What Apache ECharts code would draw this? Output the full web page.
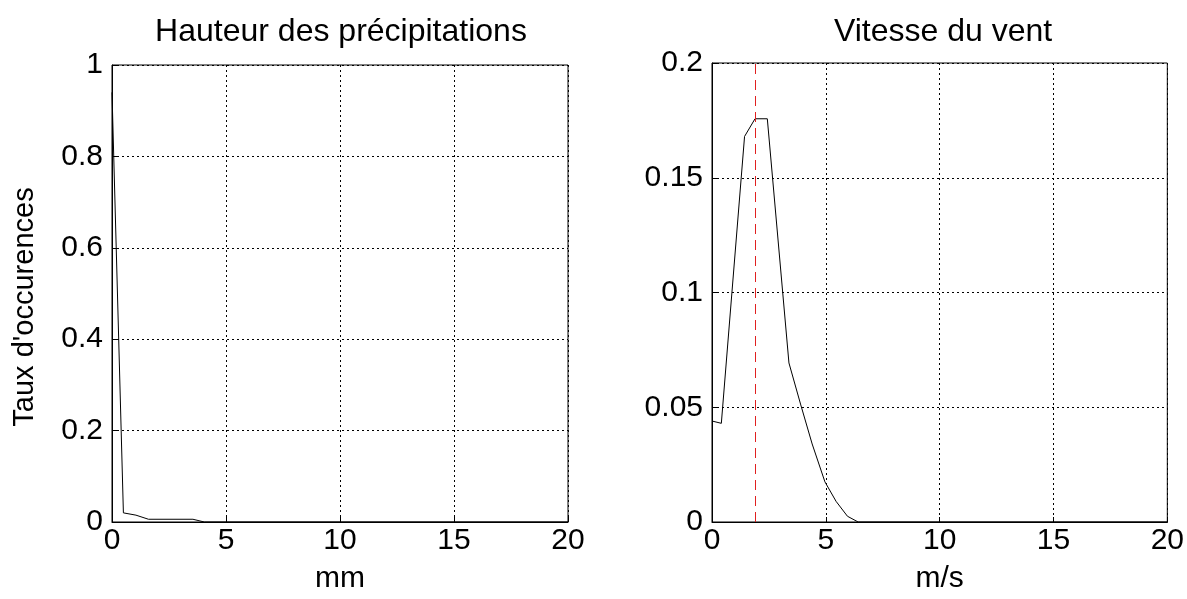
<!DOCTYPE html>
<html>
<head>
<meta charset="utf-8">
<script src="https://cdn.jsdelivr.net/npm/echarts@6/dist/echarts.min.js"></script>
<style>
  html, body { margin: 0; padding: 0; background: #fff; }
  #chart { width: 1187px; height: 599px; }
</style>
</head>
<body>
<div id="chart"></div>
<script>
// Precipitation height distribution (mm)
const precipX = [0, 0.5, 1.05, 1.6, 3.55, 4.05, 20];
const precipY = [0.94, 0.02, 0.015, 0.006, 0.006, 0, 0];

// Wind speed distribution (m/s)
const windX = [0, 0.41, 1.43, 1.89, 2.43, 3.38, 3.9, 4.4, 4.96, 5.45, 5.95, 6.42, 20];
const windY = [0.044, 0.043, 0.168, 0.1757, 0.1757, 0.0693, 0.051, 0.034, 0.0175, 0.009, 0.0025, 0, 0];

// Mean wind speed marker
const windMean = 1.89;

const xTicks = [0, 5, 10, 15, 20];
const precipYTicks = [0, 0.2, 0.4, 0.6, 0.8, 1];
const windYTicks = [0, 0.05, 0.1, 0.15, 0.2];

const titles = ['Hauteur des précipitations', 'Vitesse du vent'];
const xNames = ['mm', 'm/s'];
const yName = "Taux d'occurences";

const FONT = 'Liberation Sans, Arial, sans-serif';
const FS = 30;

function pairs(xs, ys) { return xs.map((x, i) => [x, ys[i]]); }

function xAxisDef(gridIndex, name) {
  return {
    type: 'value', gridIndex, min: xTicks[0], max: xTicks[xTicks.length - 1], interval: 5,
    name, nameLocation: 'middle', nameGap: 42,
    nameTextStyle: { color: '#000', fontSize: FS, fontFamily: FONT },
    axisLine: { show: true, lineStyle: { color: '#000', width: 1 } },
    axisTick: { show: true, inside: true, length: 5, lineStyle: { color: '#000' } },
    axisLabel: { color: '#000', fontSize: FS, fontFamily: FONT, margin: 4 },
    splitLine: { show: true, lineStyle: { color: '#000', type: [2, 3], width: 1 } }
  };
}

function yAxisDef(gridIndex, max, interval) {
  return {
    type: 'value', gridIndex, min: 0, max, interval,
    axisLine: { show: true, lineStyle: { color: '#000', width: 1 } },
    axisTick: { show: true, inside: true, length: 5, lineStyle: { color: '#000' } },
    axisLabel: { color: '#000', fontSize: FS, fontFamily: FONT, margin: 9,
      formatter: v => String(+v.toFixed(2)) },
    splitLine: { show: true, lineStyle: { color: '#000', type: [2, 3], width: 1 } }
  };
}

const chart = echarts.init(document.getElementById('chart'), null, { renderer: 'canvas' });

chart.setOption({
  backgroundColor: '#fff',
  animation: false,
  title: [
    { text: titles[0], left: 336, top: 11, textAlign: 'center',
      textStyle: { color: '#000', fontSize: 32, fontWeight: 'normal', fontFamily: FONT } },
    { text: titles[1], left: 938, top: 11, textAlign: 'center',
      textStyle: { color: '#000', fontSize: 32, fontWeight: 'normal', fontFamily: FONT } }
  ],
  graphic: [
    { type: 'text', x: 25, y: 307, rotation: Math.PI / 2,
      style: { text: yName, fill: '#000', fontSize: 29, fontFamily: FONT,
        textAlign: 'center', textVerticalAlign: 'middle' } }
  ],
  grid: [
    { left: 112, right: 619, top: 65, bottom: 75, show: true, borderColor: '#000', borderWidth: 1 },
    { left: 712, right: 19, top: 63, bottom: 74, show: true, borderColor: '#000', borderWidth: 1 }
  ],
  xAxis: [xAxisDef(0, xNames[0]), xAxisDef(1, xNames[1])],
  yAxis: [
    yAxisDef(0, precipYTicks[precipYTicks.length - 1], 0.2),
    yAxisDef(1, windYTicks[windYTicks.length - 1], 0.05)
  ],
  series: [
    {
      type: 'line', xAxisIndex: 0, yAxisIndex: 0,
      data: pairs(precipX, precipY),
      showSymbol: false, lineStyle: { color: '#000', width: 1 }
    },
    {
      type: 'line', xAxisIndex: 1, yAxisIndex: 1,
      data: pairs(windX, windY),
      showSymbol: false, lineStyle: { color: '#000', width: 1 },
      markLine: {
        silent: true, symbol: 'none', label: { show: false },
        lineStyle: { color: '#e02020', type: [10, 6], width: 1 },
        data: [{ xAxis: windMean }]
      }
    }
  ]
});
</script>
</body>
</html>
